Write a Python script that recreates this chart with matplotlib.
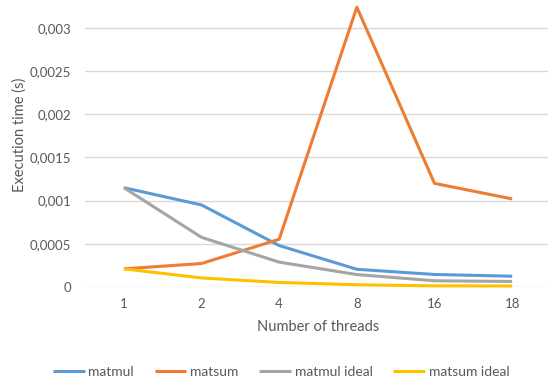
import matplotlib.pyplot as plt
import matplotlib.ticker as mticker

threads = ['1', '2', '4', '8', '16', '18']
matmul = [0.00115, 0.00095, 0.00048, 0.000205, 0.000145, 0.000125]
matsum = [0.00021, 0.000272, 0.000553, 0.00324, 0.0012, 0.00102]
matmul_ideal = [0.00115, 0.000575, 0.000288, 0.000144, 0.000072, 0.000064]
matsum_ideal = [0.00021, 0.000105, 0.0000525, 0.000026, 0.000013, 0.0000117]

labels = ['matmul', 'matsum', 'matmul ideal', 'matsum ideal']
colors = ['#5B9BD5', '#ED7D31', '#A5A5A5', '#FFC000']
series = [matmul, matsum, matmul_ideal, matsum_ideal]

plt.rcParams['font.family'] = ['Lato', 'DejaVu Sans']
txt = '#595959'

fig = plt.figure(figsize=(5.48, 3.8), dpi=100)
ax = fig.add_axes([85 / 548, 93 / 380, 466 / 548, 285 / 380])

x = range(len(threads))
for vals, lab, col in zip(series, labels, colors):
    ax.plot(x, vals, color=col, lw=2.2, label=lab, solid_capstyle='butt',
            clip_on=False)

ax.set_xlim(-0.5, len(threads) - 0.5)
ax.set_ylim(0, 0.0033)
ax.set_yticks([i * 0.0005 for i in range(7)])
ax.yaxis.set_major_formatter(mticker.FuncFormatter(
    lambda v, p: '0' if v == 0 else ('%g' % v).replace('.', ',')))
ax.set_xticks(list(x))
ax.set_xticklabels(threads)
ax.tick_params(length=0, labelsize=9.5, colors=txt, pad=8)
ax.tick_params(axis='y', pad=10)
ax.grid(axis='y', color='#D9D9D9', lw=1)
ax.set_axisbelow(True)
for s in ax.spines.values():
    s.set_visible(False)

fig.text(318 / 548, 1 - 327 / 380, 'Number of threads', ha='center', va='center',
         fontsize=10.5, color=txt)
fig.text(20 / 548, 1 - 135 / 380, 'Execution time (s)', ha='center', va='center',
         rotation=90, fontsize=10.5, color=txt)

fig.legend(loc='center', bbox_to_anchor=(281 / 548, 1 - 372 / 380), ncol=4,
           frameon=False, fontsize=10, labelcolor=txt, handlelength=2.3,
           handletextpad=0.25, columnspacing=1.5)

fig.savefig('out.png', dpi=100)
